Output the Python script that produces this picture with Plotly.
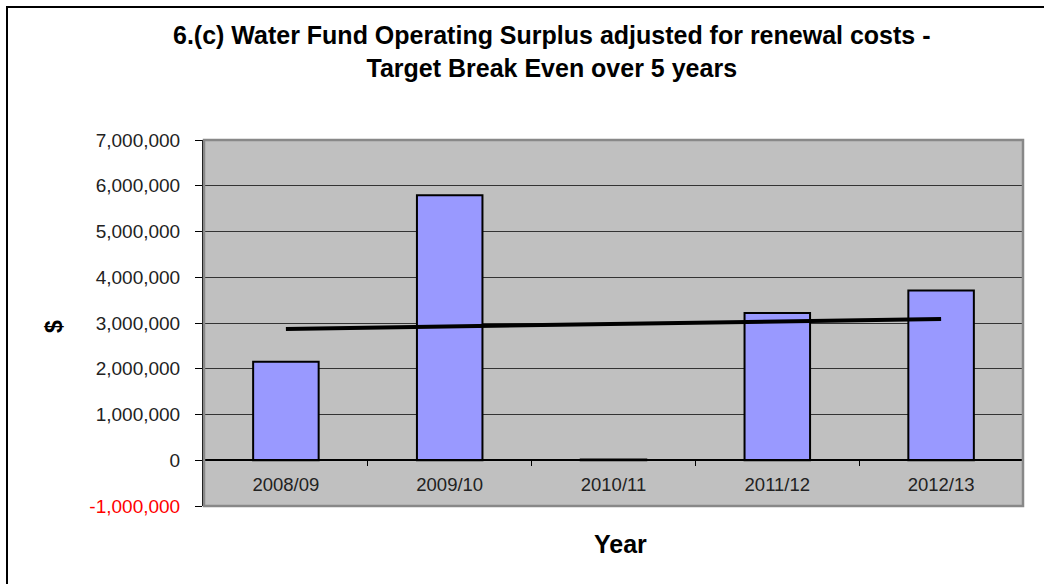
import numpy as np
import plotly.graph_objects as go

# Data
years = ["2008/09", "2009/10", "2010/11", "2011/12", "2012/13"]
surplus = [2155000, 5790000, 15000, 3220000, 3710000]

y_tick_vals = [-1000000, 0, 1000000, 2000000, 3000000, 4000000, 5000000, 6000000, 7000000]
y_tick_text = ['<span style="color:#ff0000">-1,000,000</span>', "0", "1,000,000", "2,000,000",
               "3,000,000", "4,000,000", "5,000,000", "6,000,000", "7,000,000"]

# Linear trend line fitted to the yearly surplus values
idx = np.arange(len(years))
slope, intercept = np.polyfit(idx, surplus, 1)
trend = (slope * idx + intercept).tolist()

W, H = 1044, 584
L, R, T, B = 204, 21, 140, 78
pw, ph = W - L - R, H - T - B

def px_x(x):
    return (x - L) / pw

def px_y(y):
    return (H - B - y) / ph

FONT = "Liberation Sans, Arial, sans-serif"

fig = go.Figure()
fig.add_trace(go.Bar(
    x=years, y=surplus, width=0.4,
    marker=dict(color="#9999FF", line=dict(color="#000000", width=2)),
    showlegend=False,
))
fig.add_trace(go.Scatter(
    x=years, y=trend, mode="lines",
    line=dict(color="#000000", width=4),
    showlegend=False,
))

ymin, ymax = -1000000, 7000000
fig.update_layout(
    width=W, height=H,
    margin=dict(l=L, r=R, t=T, b=B),
    paper_bgcolor="#FFFFFF",
    plot_bgcolor="#C0C0C0",
    font=dict(family=FONT, color="#222222", size=19),
    xaxis=dict(
        type="category", range=[-0.5, 4.5],
        anchor="free", position=(0 - ymin) / (ymax - ymin),
        showline=True, linecolor="#000000", linewidth=1.5,
        ticks="outside", tickson="boundaries", ticklen=5, tickcolor="#000000",
        ticklabelstandoff=8,
        showgrid=False, tickfont=dict(size=18.5, color="#222222"),
    ),
    yaxis=dict(
        range=[ymin, ymax], tickvals=y_tick_vals, ticktext=y_tick_text,
        showline=True, linecolor="#000000", linewidth=2,
        ticks="outside", ticklen=7, tickcolor="#000000",
        ticklabelstandoff=11,
        showgrid=True, gridcolor="#333333", gridwidth=1,
        zeroline=False, tickfont=dict(size=19, color="#222222"),
    ),
    shapes=[
        # plot-area frame
        dict(type="rect", xref="paper", yref="paper", x0=0, x1=1, y0=0, y1=1,
             line=dict(color="#888888", width=2.5), layer="above"),
        # outer chart frame
        dict(type="rect", xref="paper", yref="paper",
             x0=px_x(7), x1=1.2, y0=px_y(7), y1=-0.5,
             line=dict(color="#000000", width=2)),
    ],
    annotations=[
        dict(text="<b>6.(c) Water Fund Operating Surplus adjusted for renewal costs -<br>"
                  "Target Break Even over 5 years</b>",
             xref="paper", yref="paper", x=px_x(552), y=px_y(51),
             xanchor="center", yanchor="middle", showarrow=False,
             font=dict(size=25, color="#000000")),
        dict(text="<b>$</b>", xref="paper", yref="paper", x=px_x(54), y=px_y(327),
             xanchor="center", yanchor="middle",
             showarrow=False, textangle=-90, font=dict(size=23, color="#000000")),
        dict(text="<b>Year</b>", xref="paper", yref="paper", x=px_x(620), y=px_y(544),
             xanchor="center", yanchor="middle",
             showarrow=False, font=dict(size=25, color="#000000")),
    ],
)

fig.write_html("out.html")
